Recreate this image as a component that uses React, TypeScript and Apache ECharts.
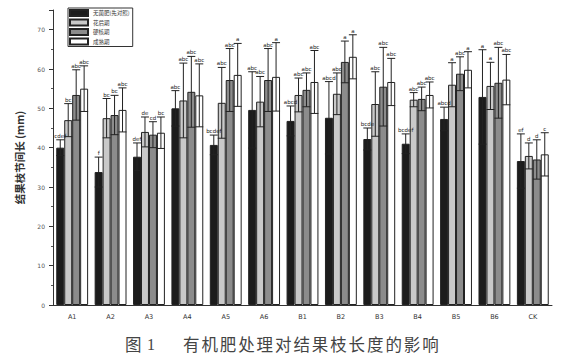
import React, { useEffect, useRef } from "react";
import * as echarts from "echarts";

const categories = ["A1", "A2", "A3", "A4", "A5", "A6", "B1", "B2", "B3", "B4", "B5", "B6", "CK"];
const seriesNames = ["无菌肥(先对照)", "花后期", "硬核期", "成熟期"];
const blackMean = [40.0, 33.8, 37.7, 50.0, 40.7, 49.6, 46.8, 47.6, 42.2, 41.0, 47.3, 52.9, 36.6];
const blackSd = [2.0, 3.8, 3.5, 4.5, 2.5, 9.7, 3.8, 9.2, 2.8, 2.5, 3.0, 12.0, 6.9];
const lightMean = [47.0, 47.5, 44.0, 52.0, 51.4, 51.7, 53.4, 53.7, 51.1, 52.2, 56.0, 55.7, 37.9];
const lightSd = [4.2, 5.0, 3.8, 9.5, 9.0, 6.4, 4.3, 5.3, 8.2, 1.8, 5.6, 6.0, 3.3];
const mediumMean = [53.4, 48.3, 43.3, 54.2, 57.2, 57.2, 54.7, 61.8, 55.5, 52.4, 58.8, 56.5, 37.0];
const mediumSd = [6.4, 5.0, 3.3, 9.0, 8.0, 8.0, 4.3, 5.3, 10.0, 3.0, 4.3, 9.0, 5.0];
const whiteMean = [55.0, 49.6, 43.8, 53.3, 58.5, 58.0, 56.7, 63.1, 56.7, 53.4, 59.8, 57.3, 38.3];
const whiteSd = [5.8, 5.6, 4.0, 8.0, 8.0, 8.7, 8.0, 5.6, 6.0, 3.3, 4.6, 6.4, 5.5];
const blackLabels = ["cdef", "f", "def", "abc", "bcdef", "abc", "abcd", "abcd", "bcde", "bcdef", "abcd", "a", "ef"];
const lightLabels = ["bc", "bc", "de", "abc", "abc", "abc", "abc", "abc", "abc", "abc", "a", "a", "d"];
const mediumLabels = ["abc", "bc", "cd", "abc", "abc", "abc", "abc", "a", "abc", "abc", "abc", "abc", "d"];
const whiteLabels = ["abc", "abc", "bc", "abc", "a", "a", "abc", "a", "abc", "abc", "a", "abc", "c"];
const yTicks = [0, 10, 20, 30, 40, 50, 60, 70];
const captionPrefix = ["图", "1"];
const captionText = "有机肥处理对结果枝长度的影响";

const colors = ["#1c1c1c", "#c9c9c9", "#8c8c8c", "#ffffff"];
const means = [blackMean, lightMean, mediumMean, whiteMean];
const sds = [blackSd, lightSd, mediumSd, whiteSd];
const labels = [blackLabels, lightLabels, mediumLabels, whiteLabels];
const GAP = 0.17;

export default function App() {
  const ref = useRef<HTMLDivElement>(null);
  useEffect(() => {
    if (!ref.current) return;
    const chart = echarts.init(ref.current, null, { renderer: "svg" });

    const barSeries = seriesNames.map((name, k) => ({
      name,
      type: "bar",
      data: means[k],
      barGap: "0%",
      barCategoryGap: GAP * 100 + "%",
      itemStyle: { color: colors[k], borderColor: "#222", borderWidth: 1 },
      z: 2,
    }));

    const errSeries = seriesNames.map((name, k) => ({
      type: "custom",
      name: name + "_err",
      z: 5,
      itemStyle: { color: "#222" },
      data: means[k].map((m, i) => [i, m, sds[k][i]]),
      renderItem: (params: any, api: any) => {
        const ci = api.value(0);
        const mean = api.value(1);
        const sd = api.value(2);
        const bandW = api.size([1, 0])[0];
        const barW = (bandW * (1 - GAP)) / 4;
        const c = api.coord([ci, mean]);
        const x = c[0] + (k - 1.5) * barW;
        const top = api.coord([ci, mean + sd])[1];
        const bot = api.coord([ci, mean - sd])[1];
        const h = barW / 2;
        const st = { stroke: "#222", lineWidth: 1, fill: null };
        return {
          type: "group",
          children: [
            { type: "line", shape: { x1: x, y1: top, x2: x, y2: bot }, style: st },
            { type: "line", shape: { x1: x - h, y1: top, x2: x + h, y2: top }, style: st },
            { type: "line", shape: { x1: x - h, y1: bot, x2: x + h, y2: bot }, style: st },
            {
              type: "text",
              x: x,
              y: top - 1,
              style: {
                text: labels[k][params.dataIndex],
                fontSize: 5.5,
                fontFamily: "DejaVu Sans",
                fill: "#222",
                align: "center",
                verticalAlign: "bottom",
              },
            },
          ],
        };
      },
    }));

    const graphics: any[] = [];
    graphics.push({
      type: "text",
      left: 125,
      top: 336,
      style: { text: captionPrefix[0], fontSize: 16.5, fontFamily: "Noto Sans CJK SC", fill: "#444" },
    });
    graphics.push({
      type: "text",
      left: 147,
      top: 336,
      style: { text: captionPrefix[1], fontSize: 16, fontFamily: "Liberation Serif", fill: "#444" },
    });
    Array.from(captionText).forEach((ch, i) => {
      graphics.push({
        type: "text",
        left: 183 + i * 18.4,
        top: 336,
        style: { text: ch, fontSize: 16.5, fontFamily: "Noto Sans CJK SC", fill: "#444" },
      });
    });

    chart.setOption({
      animation: false,
      grid: { left: 53, right: 14, top: 10, bottom: 52, containLabel: false },
      legend: {
        data: seriesNames,
        orient: "vertical",
        left: 68,
        top: 8,
        itemWidth: 18,
        itemHeight: 6,
        itemGap: 1.5,
        padding: [1, 3, 1, 1],
        borderColor: "#333",
        borderWidth: 1,
        icon: "rect",
        textStyle: { fontSize: 5.5, color: "#333", lineHeight: 7, fontFamily: "Noto Sans CJK SC" },
      },
      xAxis: {
        type: "category",
        data: categories,
        axisLine: { lineStyle: { color: "#333", width: 1 } },
        axisTick: { alignWithLabel: true, length: 5, lineStyle: { color: "#333" } },
        axisLabel: { fontSize: 6.5, color: "#333", margin: 8, fontFamily: "DejaVu Sans" },
      },
      yAxis: {
        type: "value",
        min: 0,
        max: 75,
        interval: 10,
        name: "结果枝节间长 (mm)",
        nameLocation: "middle",
        nameGap: 28,
        nameRotate: 90,
        nameTextStyle: { fontSize: 10.5, fontWeight: "bold", color: "#333", fontFamily: "Noto Sans CJK SC" },
        axisLine: { show: true, lineStyle: { color: "#333", width: 1 } },
        axisTick: { show: true, length: 4, lineStyle: { color: "#333" } },
        minorTick: { show: true, splitNumber: 2, length: 2, lineStyle: { color: "#555" } },
        splitLine: { show: false },
        axisLabel: {
          fontSize: 6,
          color: "#555",
          margin: 8,
          fontFamily: "DejaVu Sans",
          formatter: (v: number) => (yTicks.indexOf(v) >= 0 ? String(v) : ""),
        },
      },
      series: [...barSeries, ...errSeries],
      graphic: graphics,
    });
    return () => chart.dispose();
  }, []);
  return <div ref={ref} style={{ width: 566, height: 357, position: "absolute", left: 0, top: 0, background: "#fff" }} />;
}
